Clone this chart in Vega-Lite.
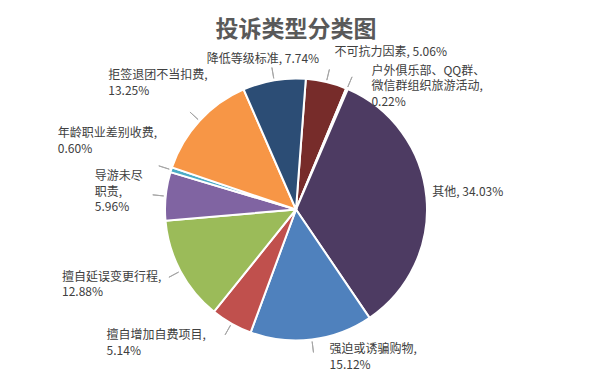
{
  "$schema": "https://vega.github.io/schema/vega-lite/v6.json",
  "width": 588,
  "height": 371,
  "autosize": {"type": "none"},
  "padding": {"left": 2, "top": 3, "right": 5, "bottom": 4},
  "background": "#ffffff",
  "config": {
    "view": {"stroke": "#d9d9d9", "strokeWidth": 1},
    "text": {"font": "Noto Sans CJK SC", "fontSize": 12, "color": "#404040", "align": "left", "baseline": "top", "lineBreak": "\n", "lineHeight": 15.5}
  },
  "title": {
    "text": "投诉类型分类图",
    "font": "Noto Sans CJK SC",
    "fontSize": 23,
    "fontWeight": "bold",
    "color": "#595959",
    "anchor": "middle",
    "frame": "group",
    "baseline": "top",
    "offset": -39
  },
  "data": {
    "values": [
      {"idx": 1, "cat": "不可抗力因素", "value": 5.06, "label": "不可抗力因素, 5.06%"},
      {"idx": 2, "cat": "户外俱乐部、QQ群、微信群组织旅游活动", "value": 0.22, "label": "户外俱乐部、QQ群、\n微信群组织旅游活动,\n0.22%"},
      {"idx": 3, "cat": "其他", "value": 34.03, "label": "其他, 34.03%"},
      {"idx": 4, "cat": "强迫或诱骗购物", "value": 15.12, "label": "强迫或诱骗购物,\n15.12%"},
      {"idx": 5, "cat": "擅自增加自费项目", "value": 5.14, "label": "擅自增加自费项目,\n5.14%"},
      {"idx": 6, "cat": "擅自延误变更行程", "value": 12.88, "label": "擅自延误变更行程,\n12.88%"},
      {"idx": 7, "cat": "导游未尽职责", "value": 5.96, "label": "导游未尽\n职责,\n5.96%"},
      {"idx": 8, "cat": "年龄职业差别收费", "value": 0.60, "label": "年龄职业差别收费,\n0.60%"},
      {"idx": 9, "cat": "拒签退团不当扣费", "value": 13.25, "label": "拒签退团不当扣费,\n13.25%"},
      {"idx": 10, "cat": "降低等级标准", "value": 7.74, "label": "降低等级标准, 7.74%"}
    ]
  },
  "transform": [
    {"stack": "value", "groupby": [], "sort": [{"field": "idx", "order": "ascending"}], "as": ["s0", "s1"]}
  ],
  "encoding": {
    "theta": {"field": "s0", "type": "quantitative", "stack": null,
      "scale": {"domain": [0, 100], "range": [0.075, 6.3582]}}
  },
  "layer": [
    {
      "mark": {"type": "arc", "radius": 131, "stroke": "#ffffff", "strokeWidth": 2, "yOffset": 21},
      "encoding": {
        "theta2": {"field": "s1"},
        "color": {"field": "cat", "type": "nominal", "legend": null,
          "scale": {
            "domain": ["不可抗力因素", "户外俱乐部、QQ群、微信群组织旅游活动", "其他", "强迫或诱骗购物", "擅自增加自费项目", "擅自延误变更行程", "导游未尽职责", "年龄职业差别收费", "拒签退团不当扣费", "降低等级标准"],
            "range": ["#772C2A", "#5F7530", "#4D3B62", "#4F81BD", "#C0504D", "#9BBB59", "#8064A2", "#4BACC6", "#F79646", "#2C4D75"]
          }}
      }
    },
    {
      "transform": [{"filter": "datum.idx != 3"}],
      "mark": {"type": "arc", "radius": 144, "radius2": 133, "padAngle": 3.1416, "filled": false, "stroke": "#a6a6a6", "strokeWidth": 1, "yOffset": 21},
      "encoding": {"theta2": {"field": "s1"}}
    },
    {
      "transform": [{"filter": "datum.idx == 1"}],
      "mark": {"type": "text", "radius": 145, "yOffset": 21, "dx": 27.7, "dy": -17.5},
      "encoding": {"text": {"field": "label"}}
    },
    {
      "transform": [{"filter": "datum.idx == 2"}],
      "mark": {"type": "text", "radius": 145, "yOffset": 21, "dx": 19.9, "dy": -10},
      "encoding": {"text": {"field": "label"}}
    },
    {
      "transform": [{"filter": "datum.idx == 3"}],
      "mark": {"type": "text", "radius": 145, "yOffset": 21, "dx": 78.9, "dy": 110.5},
      "encoding": {"text": {"field": "label"}}
    },
    {
      "transform": [{"filter": "datum.idx == 4"}],
      "mark": {"type": "text", "radius": 145, "yOffset": 21, "dx": -47.9, "dy": 15},
      "encoding": {"text": {"field": "label"}}
    },
    {
      "transform": [{"filter": "datum.idx == 5"}],
      "mark": {"type": "text", "radius": 145, "yOffset": 21, "dx": -139.2, "dy": -15.5},
      "encoding": {"text": {"field": "label"}}
    },
    {
      "transform": [{"filter": "datum.idx == 6"}],
      "mark": {"type": "text", "radius": 145, "yOffset": 21, "dx": -143.2, "dy": -51},
      "encoding": {"text": {"field": "label"}}
    },
    {
      "transform": [{"filter": "datum.idx == 7"}],
      "mark": {"type": "text", "radius": 145, "yOffset": 21, "dx": -56.7, "dy": -50.5},
      "encoding": {"text": {"field": "label"}}
    },
    {
      "transform": [{"filter": "datum.idx == 8"}],
      "mark": {"type": "text", "radius": 145, "lineHeight": 16, "yOffset": 21, "dx": -99.2, "dy": -40.6},
      "encoding": {"text": {"field": "label"}}
    },
    {
      "transform": [{"filter": "datum.idx == 9"}],
      "mark": {"type": "text", "radius": 145, "yOffset": 21, "dx": -50.4, "dy": -92.6},
      "encoding": {"text": {"field": "label"}}
    },
    {
      "transform": [{"filter": "datum.idx == 10"}],
      "mark": {"type": "text", "radius": 145, "yOffset": 21, "dx": -31.3, "dy": -22.1},
      "encoding": {"text": {"field": "label"}}
    }
  ]
}
